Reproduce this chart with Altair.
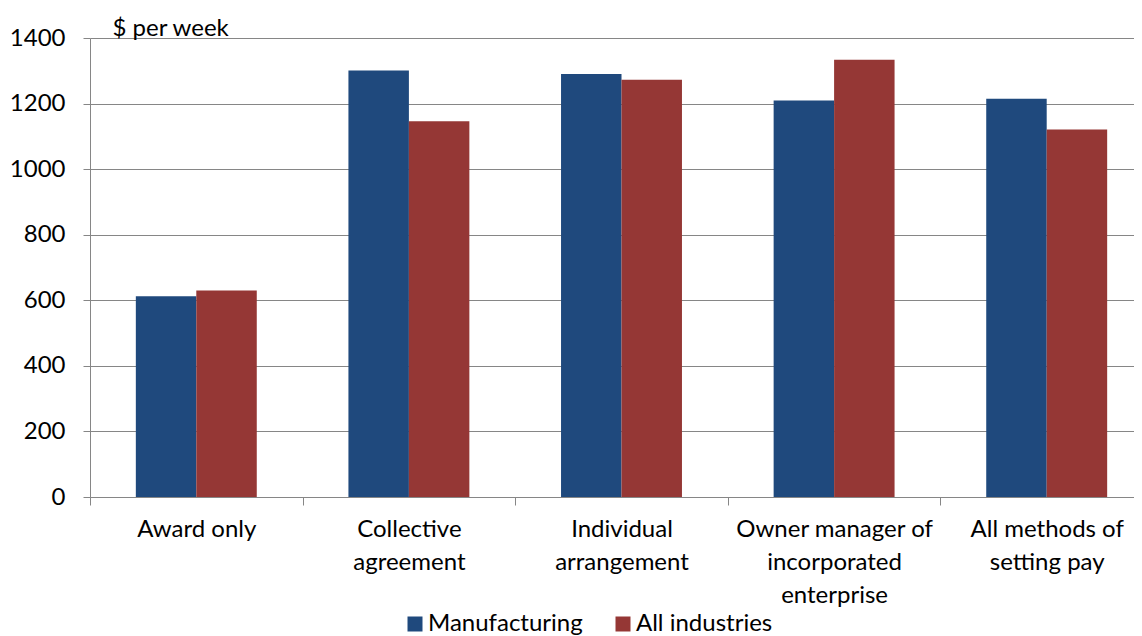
import altair as alt
import pandas as pd

categories = ["Award only", "Collective agreement", "Individual arrangement",
              "Owner manager of incorporated enterprise", "All methods of setting pay"]
label_lines = [["Award only"], ["Collective", "agreement"], ["Individual", "arrangement"],
               ["Owner manager of", "incorporated", "enterprise"], ["All methods of", "setting pay"]]
series = ["Manufacturing", "All industries"]
manufacturing = [612, 1301, 1290, 1209, 1215]
all_industries = [630, 1146, 1273, 1334, 1121]
y_ticks = [0, 200, 400, 600, 800, 1000, 1200, 1400]
colors = ["#1F497D", "#953735"]

rows = []
for c, m, a in zip(categories, manufacturing, all_industries):
    rows.append({"cat": c, "series": series[0], "value": m})
    rows.append({"cat": c, "series": series[1], "value": a})
df = pd.DataFrame(rows)

expr = "''"
for c, lines in reversed(list(zip(categories, label_lines))):
    arr = "[" + ",".join("'" + l + "'" for l in lines) + "]"
    expr = f"datum.value == '{c}' ? {arr} : ({expr})"

FONT = "Lato"
FS = 24

chart = alt.Chart(df).mark_bar().encode(
    x=alt.X("cat:N", sort=categories,
            scale=alt.Scale(paddingInner=0, paddingOuter=0, range=[0, 1063]),
            axis=alt.Axis(title=None, labelAngle=0, labelExpr=expr, tickBand="extent",
                          labelBaseline="top", labelLineHeight=33, labelPadding=12,
                          labelLimit=0,
                          tickSize=8, tickColor="#868686", domainColor="#868686",
                          labelFont=FONT, labelFontSize=FS, labelColor="#000000",
                          grid=False)),
    xOffset=alt.XOffset("series:N", sort=series,
                        scale=alt.Scale(paddingInner=0, paddingOuter=0.758)),
    y=alt.Y("value:Q", scale=alt.Scale(domain=[0, 1400], nice=False),
            axis=alt.Axis(values=y_ticks, format="d", title="$ per week", titleAngle=0,
                          titleAlign="left",
                          titleBaseline="alphabetic", titleX=22, titleY=-3,
                          titleFont=FONT, titleFontSize=FS, titleFontWeight="normal",
                          titleColor="#000000",
                          labelFont=FONT, labelFontSize=FS, labelColor="#000000",
                          labelPadding=18, tickSize=7, tickColor="#868686",
                          domainColor="#868686", gridColor="#868686", grid=True)),
    color=alt.Color("series:N", sort=series,
                    scale=alt.Scale(domain=series, range=colors),
                    legend=alt.Legend(title=None, orient="none", direction="horizontal",
                                      legendX=313, legendY=574, symbolType="square",
                                      symbolSize=225, symbolStrokeWidth=0,
                                      labelFont=FONT, labelFontSize=FS, labelColor="#000000",
                                      labelOffset=1, columnPadding=28)),
).properties(
    width=1044, height=459,
    autosize=alt.AutoSizeParams(type="none"),
    padding={"left": 82, "top": 30, "right": 0, "bottom": 139},
).configure_view(stroke=None)

chart.save("out.html", embed_options={"renderer": "svg", "actions": False})
